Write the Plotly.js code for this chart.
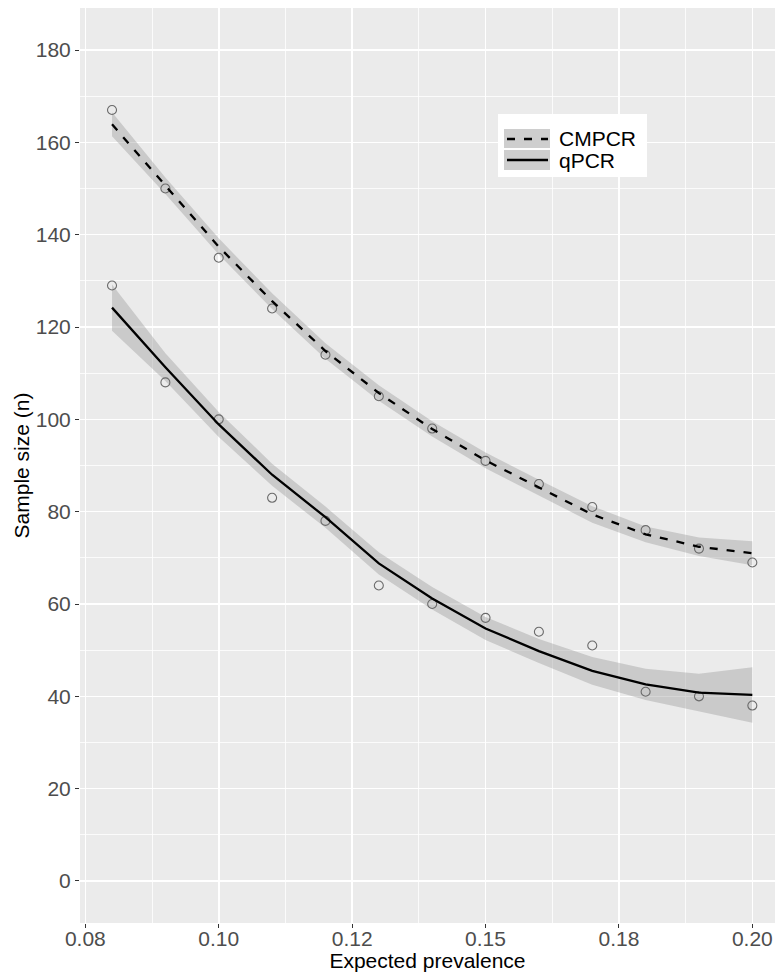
<!DOCTYPE html>
<html>
<head>
<meta charset="utf-8">
<script src="https://cdn.plot.ly/plotly-3.0.1.min.js"></script>
<style>html,body{margin:0;padding:0;background:#fff;}#chart{width:775px;height:972px;}</style>
</head>
<body>
<div id="chart"></div>
<script>
// ---- data ----
const prevalence = [0.08,0.09,0.10,0.11,0.12,0.13,0.14,0.15,0.16,0.17,0.18,0.19,0.20];
const cmpcrObs = [167,150,135,124,114,105,98,91,86,81,76,72,69];
const qpcrObs  = [129,108,100,83,78,64,60,57,54,51,41,40,38];
const cmpcrFit = [163.9,150.6,137.4,125.6,114.8,105.7,97.9,91.1,85.2,79.4,75.1,72.4,71.0];
const cmpcrHi  = [166.5,152.4,139.2,127.3,116.5,107.4,99.6,92.8,86.9,81.2,76.8,74.4,73.6];
const cmpcrLo  = [161.3,148.8,135.7,123.9,113.1,104.0,96.3,89.4,83.5,77.6,73.4,70.4,68.4];
const qpcrFit  = [124.2,111.3,98.9,88.0,78.8,68.8,61.2,54.7,49.8,45.5,42.6,40.8,40.3];
const qpcrHi   = [129.2,114.3,101.6,90.4,81.1,71.2,63.7,57.2,52.4,48.5,46.0,44.9,46.3];
const qpcrLo   = [119.2,108.3,96.2,85.6,76.5,66.4,58.8,52.2,47.2,42.5,39.2,36.7,34.3];
const xTickVals = [0.075,0.100,0.125,0.150,0.175,0.200];
const xTickText = ["0.08","0.10","0.12","0.15","0.18","0.20"];
const xMinorVals = [0.0875,0.1125,0.1375,0.1625,0.1875];
const yTickVals = [0,20,40,60,80,100,120,140,160,180];
const yMinorVals = [10,30,50,70,90,110,130,150,170];
const seriesNames = ["CMPCR","qPCR"];

const FONT = 'Liberation Sans, Arial, sans-serif';
const RIBBON = 'rgba(153,153,153,0.4)';

function ribbon(lo, hi) {
  return [
    {x: prevalence, y: lo, mode:'lines', line:{width:0, color:RIBBON}, hoverinfo:'skip', showlegend:false},
    {x: prevalence, y: hi, mode:'lines', line:{width:0, color:RIBBON}, fill:'tonexty', fillcolor:RIBBON, hoverinfo:'skip', showlegend:false}
  ];
}
const pointStyle = {symbol:'circle-open', size:9, color:'#6a6a6a', line:{width:1.1, color:'#6a6a6a'}};

const traces = [].concat(
  ribbon(cmpcrLo, cmpcrHi),
  ribbon(qpcrLo, qpcrHi),
  [
    {x: prevalence, y: cmpcrObs, mode:'markers', marker:pointStyle, showlegend:false, name:seriesNames[0]},
    {x: prevalence, y: qpcrObs, mode:'markers', marker:pointStyle, showlegend:false, name:seriesNames[1]},
    {x: prevalence, y: cmpcrFit, mode:'lines', line:{color:'#000', width:2.3, dash:'8px,9px'}, showlegend:false, name:seriesNames[0]},
    {x: prevalence, y: qpcrFit, mode:'lines', line:{color:'#000', width:2.3}, showlegend:false, name:seriesNames[1]}
  ]
);

// plot area geometry (pixels) for the manual ggplot-style legend
const L = 80, R = 775, T = 8, B = 923;
const px = v => (v - L) / (R - L);
const py = v => (B - v) / (B - T);

const shapes = [
  {type:'rect', xref:'paper', yref:'paper', x0:px(498), x1:px(647), y0:py(177), y1:py(114), fillcolor:'#fff', line:{width:0}},
  {type:'rect', xref:'paper', yref:'paper', x0:px(504), x1:px(550), y0:py(148), y1:py(129), fillcolor:'#CECECE', line:{width:0}},
  {type:'rect', xref:'paper', yref:'paper', x0:px(504), x1:px(550), y0:py(170), y1:py(150), fillcolor:'#CECECE', line:{width:0}},
  {type:'line', xref:'paper', yref:'paper', x0:px(507), x1:px(548), y0:py(139), y1:py(139), line:{color:'#000', width:2.3, dash:'8px,9px'}},
  {type:'line', xref:'paper', yref:'paper', x0:px(507), x1:px(548), y0:py(160), y1:py(160), line:{color:'#000', width:2.3}}
];
const annotations = [
  {xref:'paper', yref:'paper', x:px(557), y:py(139), text:seriesNames[0], showarrow:false, xanchor:'left', yanchor:'middle', font:{family:FONT, size:21, color:'#000'}},
  {xref:'paper', yref:'paper', x:px(557), y:py(160), text:seriesNames[1], showarrow:false, xanchor:'left', yanchor:'middle', font:{family:FONT, size:21, color:'#000'}}
];

const layout = {
  width:775, height:972,
  margin:{l:L, r:775-R, t:T, b:972-B, pad:0},
  paper_bgcolor:'#fff', plot_bgcolor:'#EBEBEB',
  font:{family:FONT, size:21, color:'#4D4D4D'},
  showlegend:false,
  xaxis:{
    range:[0.074, 0.074 + (R-L)/5336],
    tickmode:'array', tickvals:xTickVals, ticktext:xTickText,
    ticks:'outside', ticklen:4, tickwidth:1, tickcolor:'#333',
    ticklabelstandoff:-7,
    tickfont:{family:FONT, size:21, color:'#4D4D4D'},
    showgrid:true, gridcolor:'#fff', gridwidth:1.6,
    minor:{tickmode:'array', tickvals:xMinorVals, showgrid:true, gridcolor:'#fff', gridwidth:0.8, ticks:''},
    zeroline:false, showline:false,
    title:{text:'Expected prevalence', font:{family:FONT, size:21, color:'#000'}, standoff:4}
  },
  yaxis:{
    range:[-9.1, 189.1],
    tickmode:'array', tickvals:yTickVals,
    ticks:'outside', ticklen:4, tickwidth:1, tickcolor:'#333',
    tickfont:{family:FONT, size:21, color:'#4D4D4D'},
    showgrid:true, gridcolor:'#fff', gridwidth:1.6,
    minor:{tickmode:'array', tickvals:yMinorVals, showgrid:true, gridcolor:'#fff', gridwidth:0.8, ticks:''},
    zeroline:false, showline:false,
    title:{text:'Sample size (n)', font:{family:FONT, size:21, color:'#000'}, standoff:0}
  },
  shapes:shapes,
  annotations:annotations
};

Plotly.newPlot('chart', traces, layout, {displayModeBar:false, staticPlot:true});
</script>
</body>
</html>
